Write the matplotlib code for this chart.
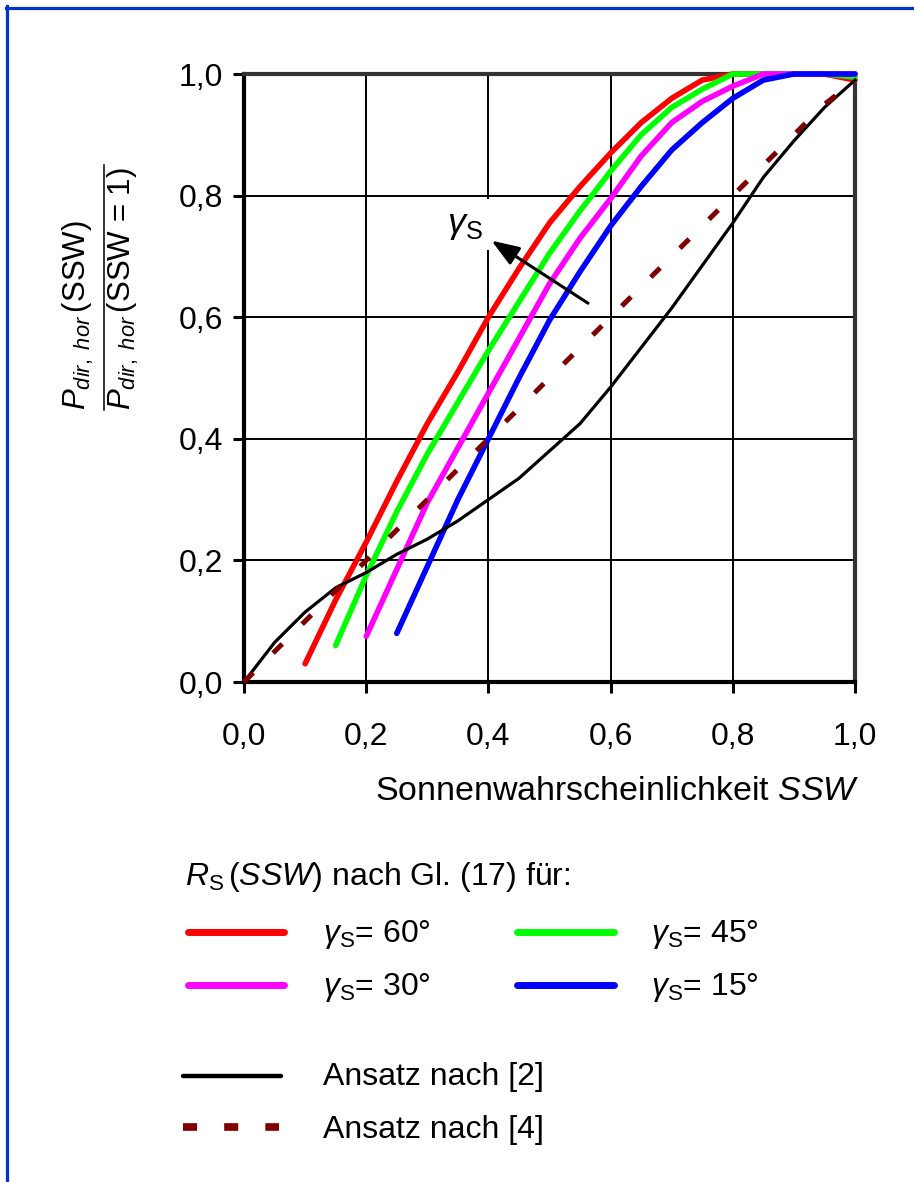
import numpy as np
import matplotlib
matplotlib.use("Agg")
import matplotlib.pyplot as plt
from matplotlib.lines import Line2D

# =========================================================
# DATEN
# =========================================================

ssw_60 = [0.10, 0.15, 0.20, 0.25, 0.30, 0.35, 0.40, 0.45, 0.50, 0.55,
          0.60, 0.65, 0.70, 0.75, 0.80, 0.85, 0.90, 0.95, 1.00]
rs_60 = [0.03, 0.135, 0.23, 0.33, 0.425, 0.51, 0.60, 0.68, 0.755, 0.815,
         0.87, 0.92, 0.96, 0.99, 1.0, 1.0, 1.0, 1.0, 0.99]

ssw_45 = [0.15, 0.20, 0.25, 0.30, 0.35, 0.40, 0.45, 0.50, 0.55,
          0.60, 0.65, 0.70, 0.75, 0.80, 0.85, 0.90, 0.95, 1.00]
rs_45 = [0.06, 0.175, 0.28, 0.375, 0.46, 0.545, 0.625, 0.705, 0.775,
         0.84, 0.90, 0.945, 0.975, 1.0, 1.0, 1.0, 1.0, 0.995]

ssw_30 = [0.20, 0.25, 0.30, 0.35, 0.40, 0.45, 0.50, 0.55,
          0.60, 0.65, 0.70, 0.75, 0.80, 0.85, 0.90, 0.95, 1.00]
rs_30 = [0.075, 0.185, 0.295, 0.385, 0.475, 0.565, 0.655, 0.73,
         0.795, 0.865, 0.92, 0.955, 0.98, 1.0, 1.0, 1.0, 1.0]

ssw_15 = [0.25, 0.30, 0.35, 0.40, 0.45, 0.50, 0.55,
          0.60, 0.65, 0.70, 0.75, 0.80, 0.85, 0.90, 0.95, 1.00]
rs_15 = [0.08, 0.19, 0.30, 0.40, 0.50, 0.595, 0.675,
         0.75, 0.815, 0.875, 0.92, 0.96, 0.99, 1.0, 1.0, 1.0]

ssw_ref2 = [0.00, 0.05, 0.10, 0.15, 0.20, 0.25, 0.30, 0.35, 0.40, 0.45, 0.50,
            0.55, 0.60, 0.65, 0.70, 0.75, 0.80, 0.85, 0.90, 0.95, 1.00]
p_ref2 = [0.0, 0.065, 0.115, 0.155, 0.18, 0.21, 0.235, 0.265, 0.30, 0.335, 0.38,
          0.425, 0.485, 0.55, 0.615, 0.685, 0.755, 0.83, 0.89, 0.945, 0.99]

ssw_ref4 = [0.0, 0.1, 0.2, 0.3, 0.4, 0.5, 0.6, 0.7, 0.8, 0.9, 0.95, 1.0]
p_ref4 = [0.0, 0.1, 0.2, 0.3, 0.4, 0.5, 0.6, 0.7, 0.8, 0.9, 0.95, 0.99]

ticks = [0.0, 0.2, 0.4, 0.6, 0.8, 1.0]
tick_labels = ["0,0", "0,2", "0,4", "0,6", "0,8", "1,0"]

gamma_labels = ["60°", "45°", "30°", "15°"]

# =========================================================
# STIL
# =========================================================

plt.rcParams['font.family'] = ['Liberation Sans', 'DejaVu Sans']
plt.rcParams['mathtext.fontset'] = 'custom'
plt.rcParams['mathtext.rm'] = 'Liberation Sans'
plt.rcParams['mathtext.it'] = 'Liberation Sans:italic'
plt.rcParams['mathtext.bf'] = 'Liberation Sans:bold'

W, H = 914, 1182
FS = 23


def fx(p):
    return p / W


def fy(p):
    return 1 - p / H


fig = plt.figure(figsize=(W / 100, H / 100), dpi=100)
ax = fig.add_axes([fx(244), fy(682), (855 - 244) / W, (682 - 74) / H])

# =========================================================
# KURVEN
# =========================================================

curves = [
    (ssw_60, rs_60, "#ff0000"),
    (ssw_45, rs_45, "#00ff00"),
    (ssw_30, rs_30, "#ff00ff"),
    (ssw_15, rs_15, "#0000ff"),
]

for x, y, c in curves:
    ax.plot(x, y, color=c, lw=4, solid_capstyle='round',
            solid_joinstyle='round', clip_on=False, zorder=3)

ax.plot(ssw_ref2, p_ref2, color='black', lw=2.3, clip_on=False, zorder=3)
ax.plot(ssw_ref4, p_ref4, color='#800000', lw=3.6, dashes=(2.6, 5.6),
        dash_capstyle='butt', clip_on=False, zorder=3)

# Pfeil gamma_S
ax.annotate('', xy=(0.405, 0.726), xytext=(0.563, 0.623),
            arrowprops=dict(arrowstyle='-|>,head_length=0.6,head_width=0.22',
                            mutation_scale=28, lw=2.2, color='black',
                            shrinkA=0, shrinkB=0),
            zorder=5)
ax.text(0.362, 0.752, r'$\gamma_{\mathrm{S}}$', fontsize=26,
        ha='center', va='center', zorder=4,
        bbox=dict(facecolor='white', edgecolor='none',
                  boxstyle='square,pad=0.22'))

# =========================================================
# ACHSEN
# =========================================================

ax.set_xlim(0, 1)
ax.set_ylim(0, 1)
ax.set_xticks(ticks)
ax.set_yticks(ticks)
ax.set_xticklabels(tick_labels)
ax.set_yticklabels(tick_labels)
ax.set_axisbelow(True)
ax.grid(True, color='black', lw=1.4)

ax.tick_params(axis='both', direction='out', length=8, width=2.2,
               labelsize=FS, color='black')
ax.tick_params(axis='x', pad=21)
ax.tick_params(axis='y', pad=7)

for s in ['left', 'bottom']:
    ax.spines[s].set_linewidth(3)
    ax.spines[s].set_color('black')
for s in ['top', 'right']:
    ax.spines[s].set_linewidth(3)
    ax.spines[s].set_color('#333333')

ax.set_xlabel('Sonnenwahrscheinlichkeit $SSW$', fontsize=24.5, ha='right')
ax.xaxis.set_label_coords((860 - 244) / 611, -(776 - 682) / 608)

# y-Beschriftung als Bruch (linksbündig)
fig.text(fx(78), fy(410), r'$P_{dir,\ hor}\,$(SSW)', fontsize=22.5,
         rotation=90, rotation_mode='anchor', ha='left', va='center')
fig.text(fx(123), fy(410), r'$P_{dir,\ hor}\,$(SSW = 1)', fontsize=22.5,
         rotation=90, rotation_mode='anchor', ha='left', va='center')
fig.add_artist(Line2D([fx(104), fx(104)], [fy(410), fy(165)],
                      color='black', lw=1.1))

# =========================================================
# LEGENDE
# =========================================================

fig.text(fx(185), fy(885), r'$R_{\mathrm{S}}\,$($SSW$) nach Gl. (17) für:',
         fontsize=FS, ha='left', va='baseline')

leg_pos = [(185, 287, 932, 323, 942), (514, 617, 932, 651, 942),
           (185, 287, 985, 323, 995), (514, 617, 985, 651, 995)]
for (x, y, c), g, (x0, x1, yl, xt, yt) in zip(curves, gamma_labels, leg_pos):
    fig.add_artist(Line2D([fx(x0 + 3), fx(x1 - 3)], [fy(yl), fy(yl)],
                          color=c, lw=5, solid_capstyle='round'))
    fig.text(fx(xt), fy(yt), r'$\gamma_{\mathrm{S}}$= ' + g,
             fontsize=FS, ha='left', va='baseline')

fig.add_artist(Line2D([fx(183), fx(281)], [fy(1076), fy(1076)],
                      color='black', lw=3.2, solid_capstyle='round'))
fig.text(fx(323), fy(1085), 'Ansatz nach [2]', fontsize=FS,
         ha='left', va='baseline')

fig.add_artist(Line2D([fx(183), fx(279)], [fy(1127), fy(1127)],
                      color='#800000', lw=5.5, dashes=(1.84, 3.55),
                      dash_capstyle='butt'))
fig.text(fx(323), fy(1138), 'Ansatz nach [4]', fontsize=FS,
         ha='left', va='baseline')

# Rahmen (oben und links)
fig.add_artist(Line2D([fx(6), fx(914)], [fy(7.5), fy(7.5)],
                      color='#0033cc', lw=2.3))
fig.add_artist(Line2D([fx(7.5), fx(7.5)], [fy(6), fy(1182)],
                      color='#0033cc', lw=2.3))

fig.savefig('out.png', dpi=100)
